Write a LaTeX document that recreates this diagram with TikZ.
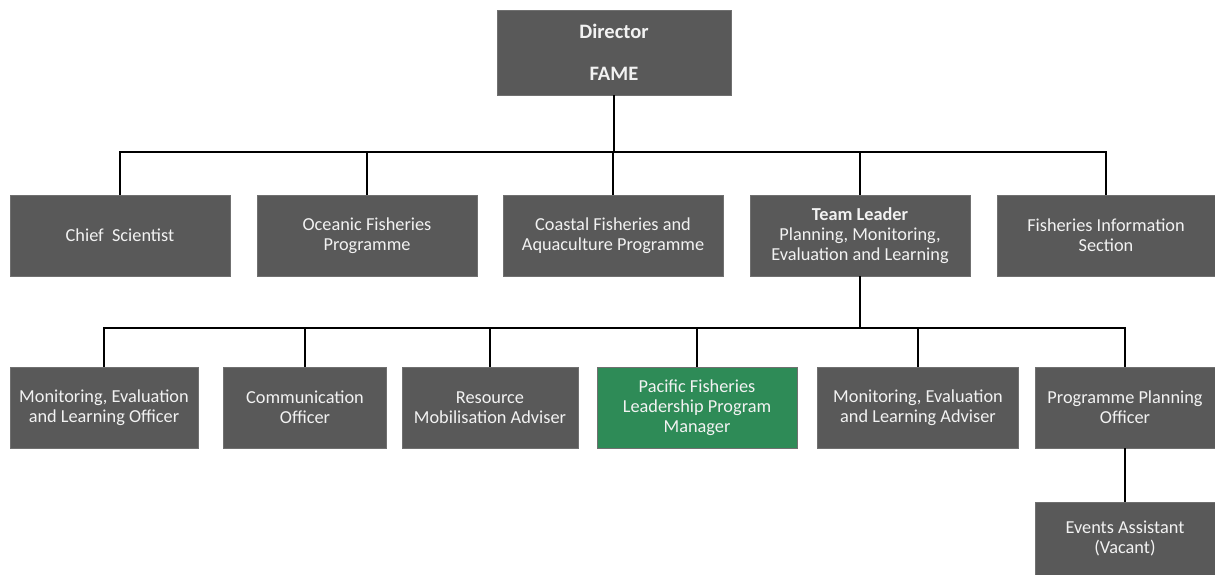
\documentclass[tikz,border=0pt]{standalone}
\usepackage{fontspec}
\setmainfont{Carlito}
\definecolor{boxgray}{HTML}{595959}
\definecolor{boxedge}{HTML}{707070}
\definecolor{boxgreen}{RGB}{46,139,87}
\definecolor{txt}{HTML}{F2F2F2}
\begin{document}
\begin{tikzpicture}[x=1pt,y=-1pt,
  box/.style={draw=boxedge, line width=0.6pt, fill=boxgray, text=txt, align=center,
    inner sep=0pt, font=\fontsize{18.3}{20}\selectfont},
  greenbox/.style={box, fill=boxgreen},
  link/.style={line width=1.7pt, black}]
\useasboundingbox (0,0) rectangle (1215,574);
% top
\node[box, minimum width=234pt, minimum height=85pt, font=\fontsize{20.5}{22}\selectfont] (dir) at (614,52.5)
  {\textbf{Director}\\[20pt]\textbf{FAME}};
% row 1
\node[box, minimum width=220pt, minimum height=81pt] (cs) at (120,235.5) {Chief\ \ Scientist};
\node[box, minimum width=220pt, minimum height=81pt] (ofp) at (367,235.5) {Oceanic Fisheries\\Programme};
\node[box, minimum width=220pt, minimum height=81pt] (cfa) at (613,235.5) {Coastal Fisheries and\\Aquaculture Programme};
\node[box, minimum width=220pt, minimum height=81pt] (tl) at (860,235.5) {\textbf{Team Leader}\\Planning, Monitoring,\\Evaluation and Learning};
\node[box, minimum width=218pt, minimum height=81pt] (fis) at (1106,235.5) {Fisheries Information\\Section};
% row 2
\node[box, minimum width=188pt, minimum height=81pt] (melo) at (104,407.5) {Monitoring, Evaluation\\and Learning Officer};
\node[box, minimum width=163pt, minimum height=81pt] (co) at (305,407.5) {Communication\\Officer};
\node[box, minimum width=176pt, minimum height=81pt] (rma) at (490,407.5) {Resource\\Mobilisation Adviser};
\node[greenbox, minimum width=200pt, minimum height=81pt] (pfl) at (697,407.5) {Pacific Fisheries\\Leadership Program\\Manager};
\node[box, minimum width=201pt, minimum height=81pt] (mela) at (918,407.5) {Monitoring, Evaluation\\and Learning Adviser};
\node[box, minimum width=180pt, minimum height=81pt] (ppo) at (1125,407.5) {Programme Planning\\Officer};
% row 3
\node[box, minimum width=180pt, minimum height=73pt] (ea) at (1125,538.5) {Events Assistant\\(Vacant)};
% connectors
\coordinate (b1) at (614,152);
\coordinate (b2) at (860,328);
\draw[link] (dir.south) -- (b1);
\foreach \n in {cs,ofp,cfa,tl,fis} \draw[link] (b1) -| (\n.north);
\draw[link] (tl.south) -- (b2);
\foreach \n in {melo,co,rma,pfl,mela,ppo} \draw[link] (b2) -| (\n.north);
\draw[link] (ppo.south) -- (ea.north);
\end{tikzpicture}
\end{document}
